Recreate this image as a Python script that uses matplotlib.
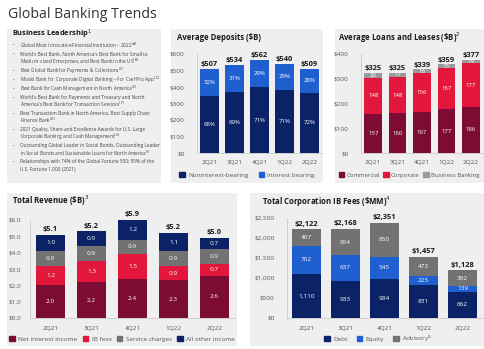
import matplotlib
matplotlib.use("Agg")
import matplotlib.pyplot as plt
import numpy as np
from matplotlib.patches import Rectangle, Patch

plt.rcParams['font.family'] = ['Open Sans', 'DejaVu Sans']
plt.rcParams['mathtext.fontset'] = 'dejavusans'

# ---- data ----
quarters = ['2Q21', '3Q21', '4Q21', '1Q22', '2Q22']

dep_total = [507, 534, 562, 540, 509]
dep_nonint_pct = [68, 69, 71, 71, 72]
dep_int_pct = [32, 31, 29, 29, 28]

loan_commercial = [157, 160, 167, 177, 186]
loan_corporate = [148, 148, 156, 167, 177]
loan_business = [20, 17, 16, 15, 14]
loan_total = [325, 325, 339, 359, 377]

rev_nii = [2.0, 2.2, 2.4, 2.3, 2.6]
rev_ib = [1.2, 1.3, 1.5, 0.9, 0.7]
rev_service = [0.9, 0.9, 0.9, 0.9, 0.9]
rev_other = [1.0, 0.9, 1.2, 1.1, 0.7]
rev_total = [5.1, 5.2, 5.9, 5.2, 5.0]

ib_debt = [1110, 933, 984, 831, 662]
ib_equity = [702, 637, 545, 225, 139]
ib_advisory = [407, 654, 850, 473, 392]
ib_total = [2122, 2168, 2351, 1457, 1128]

bullets = [
    ["Global Most Innovative Financial Institution \u2013 2022$^{(A)}$"],
    ["World's Best Bank, North America's Best Bank for Small to",
     "Medium-sized Enterprises, and Best Bank in the US$^{(B)}$"],
    ["Best Global Bank for Payments & Collections$^{(C)}$"],
    ["Model Bank for Corporate Digital Banking \u2013 For CashPro App$^{(D)}$"],
    ["Best Bank for Cash Management in North America$^{(E)}$"],
    ["World's Best Bank for Payments and Treasury and North",
     "America's Best Bank for Transaction Services$^{(F)}$"],
    ["Best Transaction Bank in North America, Best Supply Chain",
     "Finance Bank$^{(G)}$"],
    ["2021 Quality, Share and Excellence Awards for U.S. Large",
     "Corporate Banking and Cash Management$^{(H)}$"],
    ["Outstanding Global Leader in Social Bonds, Outstanding Leader",
     "in Social Bonds and Sustainable Loans for North America$^{(I)}$"],
    ["Relationships with 74% of the Global Fortune 500; 95% of the",
     "U.S. Fortune 1,000 (2021)"],
]

NAVY = '#0b2266'
BLUE = '#1f5fcf'
MAROON = '#7c0c33'
RED = '#e2173b'
GRAY = '#727272'
LGRAY = '#9a9a9a'
PANEL = '#efefef'
TICK = '#555555'

W, H = 485, 349
fig = plt.figure(figsize=(W / 100, H / 100), dpi=100)
fig.patch.set_facecolor('white')


def fx(x):
    return x / W


def fy(y):
    return 1 - y / H


def panel(x0, y0, x1, y1):
    fig.patches.append(Rectangle((fx(x0), fy(y1)), (x1 - x0) / W, (y1 - y0) / H,
                                 transform=fig.transFigure, facecolor=PANEL,
                                 edgecolor='none', zorder=-5))


def make_axes(x0, y0, x1, y1):
    ax = fig.add_axes([fx(x0), fy(y1), (x1 - x0) / W, (y1 - y0) / H])
    ax.set_facecolor('none')
    ax.set_zorder(2)
    for s in ['top', 'right']:
        ax.spines[s].set_visible(False)
    ax.spines['left'].set_color('#c8c8c8')
    ax.spines['bottom'].set_color('#c8c8c8')
    ax.spines['left'].set_linewidth(0.6)
    ax.spines['bottom'].set_linewidth(0.6)
    ax.tick_params(length=0, labelsize=4.6, colors=TICK)
    ax.set_xlim(-0.5, 4.5)
    ax.set_xticks(range(5))
    ax.set_xticklabels(quarters)
    return ax


def stack(ax, series, colors, labels, fmt, width, fs):
    x = np.arange(5)
    bottom = np.zeros(5)
    for vals, col, lab in zip(series, colors, labels):
        vals = np.asarray(vals, dtype=float)
        ax.bar(x, vals, width, bottom=bottom, color=col, zorder=2)
        for xi, b, v, t in zip(x, bottom, vals, lab):
            ax.text(xi, b + v / 2, fmt(t), ha='center', va='center',
                    color='white', fontsize=fs, zorder=3)
        bottom = bottom + vals
    return bottom


def totals(ax, tops, vals, fmt, off):
    for xi, top, v in zip(range(5), tops, vals):
        ax.text(xi, top + off, fmt(v), ha='center', va='bottom',
                fontsize=5.4, fontweight='bold', color='#1a1a1a', clip_on=False)


def legend(ax, colors, names, cx, cy, gap, fs=4.6, tpad=0.5):
    ax.legend(handles=[Patch(color=c) for c in colors], labels=names, ncol=len(names),
              loc='center', bbox_to_anchor=(fx(cx), fy(cy)), bbox_transform=fig.transFigure,
              frameon=False, fontsize=fs, handlelength=0.9, handleheight=0.9,
              handletextpad=tpad, columnspacing=gap, labelcolor=TICK)


# ---- title ----
fig.text(fx(8), fy(14), 'Global Banking Trends', fontsize=10.2, color='#333333',
         va='center', ha='left')

# ---- panels ----
panel(7, 29, 161, 183)
panel(171, 29, 323, 183)
panel(335, 29, 485, 183)
panel(7, 193, 237, 346)
panel(250, 193, 485, 346)

# ---- Business Leadership ----
fig.text(fx(12), fy(34), r'Business Leadership$^{1}$', fontsize=5.3,
         fontweight='bold', color='#1a1a1a', va='center')
y = 45.5
for b in bullets:
    fig.text(fx(13), fy(y), '\u2022', fontsize=3.2, color='#444444', va='center')
    for i, line in enumerate(b):
        fig.text(fx(19.5), fy(y), line, fontsize=3.4, color='#444444', va='center')
        y += 7.1 if i < len(b) - 1 else 9.0

# ---- Average Deposits ----
fig.text(fx(177), fy(38), r'Average Deposits (\$B)', fontsize=5.6,
         fontweight='bold', color='#1a1a1a', va='center')
ax = make_axes(197, 54, 322, 153)
nonint = [t * p / 100 for t, p in zip(dep_total, dep_nonint_pct)]
intb = [t * p / 100 for t, p in zip(dep_total, dep_int_pct)]
tops = stack(ax, [nonint, intb], [NAVY, BLUE], [dep_nonint_pct, dep_int_pct],
             lambda v: f'{v}%', 0.74, 4.4)
ax.set_ylim(0, 600)
ax.set_yticks(range(0, 601, 100))
ax.set_yticklabels([f'${v}' for v in range(0, 601, 100)])
ax.tick_params(axis='y', pad=9)
ax.tick_params(axis='x', pad=5)
totals(ax, tops, dep_total, lambda v: f'${v}', 6)
legend(ax, [NAVY, BLUE], ['Noninterest-bearing', 'Interest bearing'], 247, 175, 1.6)

# ---- Average Loans and Leases ----
fig.text(fx(338), fy(38), r'Average Loans and Leases (\$B)$^{2}$', fontsize=5.6,
         fontweight='bold', color='#1a1a1a', va='center')
ax = make_axes(361, 54, 483, 153)
tops = stack(ax, [loan_commercial, loan_corporate, loan_business],
             [MAROON, RED, LGRAY], [loan_commercial, loan_corporate, loan_business],
             lambda v: f'{v}', 0.72, 4.3)
ax.set_ylim(0, 400)
ax.set_yticks(range(0, 401, 100))
ax.set_yticklabels([f'${v}' for v in range(0, 401, 100)])
ax.tick_params(axis='y', pad=9)
ax.tick_params(axis='x', pad=5)
totals(ax, tops, loan_total, lambda v: f'${v}', 2)
legend(ax, [MAROON, RED, LGRAY], ['Commercial', 'Corporate', 'Business Banking'],
       409, 175, 0.6, fs=4.3, tpad=0.35)

# ---- Total Revenue ----
fig.text(fx(12), fy(201), r'Total Revenue (\$B)$^{3}$', fontsize=5.6,
         fontweight='bold', color='#1a1a1a', va='center')
ax = make_axes(30, 220, 235, 318)
tops = stack(ax, [rev_nii, rev_ib, rev_service, rev_other],
             [MAROON, RED, GRAY, NAVY], [rev_nii, rev_ib, rev_service, rev_other],
             lambda v: f'{v:.1f}', 0.71, 4.6)
ax.set_ylim(0, 6)
ax.set_yticks(range(0, 7))
ax.set_yticklabels([f'${v:.1f}' for v in range(0, 7)])
ax.tick_params(axis='y', pad=6)
ax.tick_params(axis='x', pad=6)
totals(ax, tops, rev_total, lambda v: f'${v:.1f}', 0.1)
legend(ax, [MAROON, RED, GRAY, NAVY],
       ['Net interest income', 'IB fees', 'Service charges', 'All other income'],
       122, 339, 0.8)

# ---- Total Corporation IB Fees ----
fig.text(fx(262), fy(202), r'Total Corporation IB Fees (\$MM)$^{4}$', fontsize=5.6,
         fontweight='bold', color='#1a1a1a', va='center')
ax = make_axes(287, 218, 482, 318)
tops = stack(ax, [ib_debt, ib_equity, ib_advisory], [NAVY, BLUE, GRAY],
             [ib_debt, ib_equity, ib_advisory], lambda v: f'{v:,}', 0.75, 4.6)
ax.set_ylim(0, 2500)
ax.set_yticks(range(0, 2501, 500))
ax.set_yticklabels([f'${v:,}' for v in range(0, 2501, 500)])
ax.tick_params(axis='y', pad=9)
ax.tick_params(axis='x', pad=6)
totals(ax, tops, ib_total, lambda v: f'${v:,}', 40)
legend(ax, [NAVY, BLUE, GRAY], ['Debt', 'Equity', r'Advisory$^{5}$'], 378, 339, 1.4)

fig.savefig('out.png', dpi=100)
